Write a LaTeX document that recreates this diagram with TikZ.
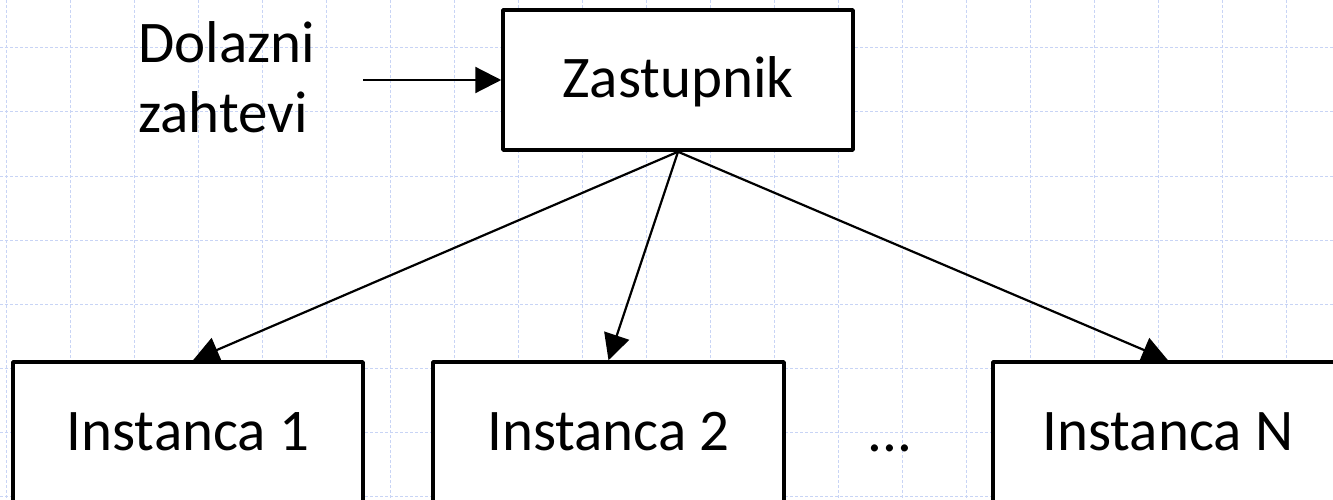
\documentclass[tikz,border=0pt]{standalone}
\usepackage{fontspec}
\setmainfont{Carlito}
\usetikzlibrary{arrows.meta,calc}
\definecolor{gridblue}{RGB}{200,212,245}
\tikzset{
  gridline/.style={draw=gridblue,line width=1pt,dash pattern=on 3pt off 2pt},
  boxnode/.style={draw=black,fill=white,line width=3.5pt,line join=round,minimum width=350pt,minimum height=140pt,inner sep=0pt},
  lbl/.style={font=\fontsize{59}{70}\selectfont,inner sep=0pt,anchor=base},
  arr/.style={draw=black,line width=2.2pt,-{Triangle[length=26pt,width=26pt]}}
}
\begin{document}
\begin{tikzpicture}[x=1pt,y=-1pt]
\useasboundingbox (0,0) rectangle (1333,500);
\clip (0,0) rectangle (1333,500);
\fill[white] (0,0) rectangle (1333,500);
% grid
\foreach \gx in {6,70,...,1350} \draw[gridline] (\gx,0) -- (\gx,500);
\foreach \gy in {48,112,...,520} \draw[gridline] (0,\gy) -- (1333,\gy);
% boxes
\node[boxnode] (z) at (678,80) {};
\node[lbl] (zt) at (678,98) {Zastupnik};
\node[boxnode] (i1) at (188,432) {};
\node[lbl] (i1t) at (188,450) {Instanca 1};
\node[boxnode,minimum width=351pt] (i2) at (608.5,432) {};
\node[lbl] (i2t) at (608.5,450) {Instanca 2};
\node[boxnode] (iN) at (1168,432) {};
\node[lbl] (iNt) at (1168,450) {Instanca N};
\node[lbl] (dots) at (890,451) {...};
% incoming label
\node[lbl,anchor=base west] (d1) at (138,63) {Dolazni};
\node[lbl,anchor=base west] (d2) at (138,133) {zahtevi};
\coordinate (in) at (363,80);
% connectors
\draw[arr] (in) -- (z.west);
\draw[arr] (z.south) -- ([xshift=5pt]i1.north);
\draw[arr] (z.south) -- (i2.north);
\draw[arr] (z.south) -- (iN.north);
\end{tikzpicture}
\end{document}
